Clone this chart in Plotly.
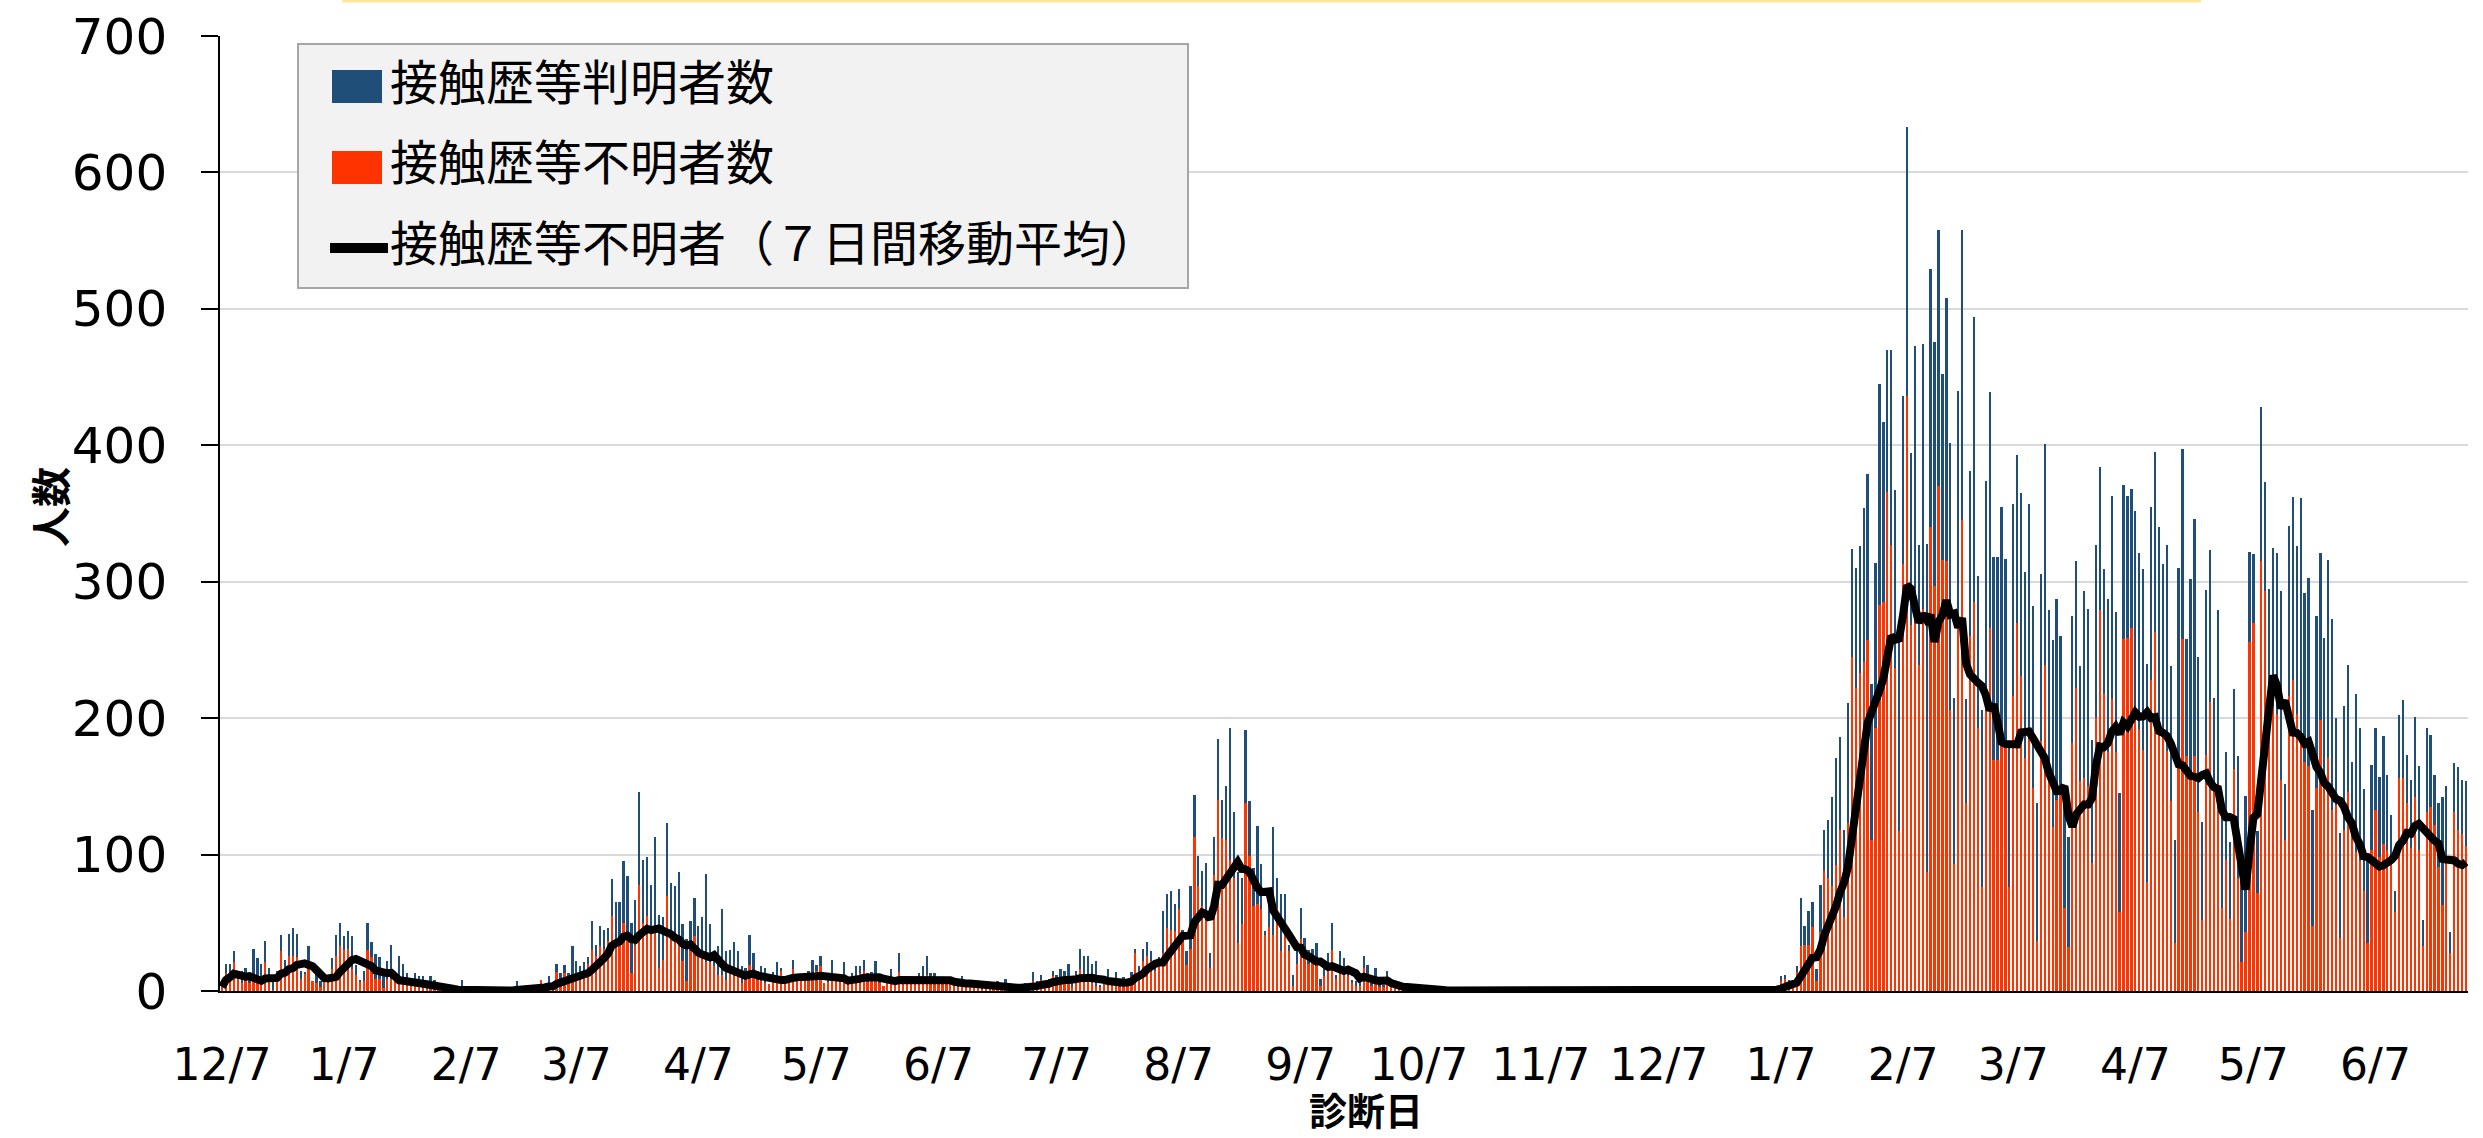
import pandas as pd
import plotly.graph_objects as go

# ---------------- data (daily, starting 2020-12-07) ----------------
start_date = "2020-12-07"

# 接触歴等不明者数 (unknown contact history)
unknown_2020_12_to_2021_01 = [3,13,14,21,9,6,7,6,8,8, 8,21,8,1,13,29,14,26,26,25, 9,13,21,7,6,3,7,7,16,26,
                              33,30,31,16,12,7,7,30,25,9, 9,2,9,9,9,8,7,7,4,5, 5,5,2,3,2, 1]
unknown_2021_02_to_2021_05 = [1,1,1,1,0,1,0,1,0,
                              1,0,0,0,1,0,1,1,0,1,
                              1,1,1,2,1,2,8,3,6,2,
                              14,8,13,10,10,12,13,14,20,30,
                              26,33,31,37,55,33,
                              39,50,39,13,34,78,50,55,43,44,
                              17,23,70,40,37,34,22,7,29,40,
                              28,27,21,21,18,12,12,8,17,11,
                              12,6,12,19,12,8,7,6,5,7,
                              8,15,8,8,16,8,8,9,7,13,
                              15,18,6,7,9,9,7,9,6,7,
                              11,13,15,9, 8]
unknown_2021_05_to_2021_09 = [8,6,4,8,9,8,
                              14,8,8,6,5,7,9,12,8,7,
                              6,5,7,10,4,3,7,3,4,5,
                              3,2,2,2,2,3,2,
                              3,2,2,3,2,3,2,
                              7,6,8,4,7,11,9,9,8,9,
                              3,12,16,11,11,6,4,3,7,9,
                              7,8,3,6,4,11,28,15,22,26,
                              22,15,18,28,46,45,44,60,41,19,
                              31,113,77,62,51,17,85,140,112,111,
                              96,83,35,49,138,99,62,64,60,41,
                              47,41,61,29,41,29,4,20,38,26, 20]
unknown_2021_09_to_2022_01 = [22,22,4,11,18,30,9,17,14,11, 6,4,4,17,12,4,8,3,3,7, 4,2,2,1,1,1,1,0,1,0, 1,0,1,0,
                              1,0,0,1,0,0,0,1,0,0,
                              0,1,0,0,0,0,1,0,0,0,
                              0,0,1,0,0,0,0,0,1,0,
                              0,0,0,0,1,0,0,0,0,0,
                              1,0,0,0,0,0,0,0,1,0,
                              0,0,0,0,0,1,0,0,0,0,
                              0,0,1,0,0,0,0,0,0,1,
                              0,0,0,0,0,1,0,0,1,0,
                              0,1,1, 2,2]
unknown_2022_01_to_2022_06 = [7,9,5,4,14,33,34,34,47,7,
                              43,88,83,77,92,118,54,123,245,222,
                              233,241,257,111,193,283,285,366,327,237,
                              117,313,436,268,280,239,280,87,340,297,
                              370,316,315,206,93,268,345,138,260,285,
                              193,76,222,266,169,169,183,182,76,216,
                              270,231,171,185,149,37,183,239,158,120,
                              140,150,61,32,182,222,154,156,150,94,
                              200,279,218,175,214,175,58,258,259,266,
                              199,192,177,80,228,263,195,190,176,139,
                              35,165,258,172,159,172,131,52,173,212,
                              146,152,61,96,53,163,83,21,43,256,
                              270,72,315,293,205,208,203,155,111,216,
                              228,203,189,168,165,48,149,199,149,171,
                              133,136,39,118,146,118,102,95,73,35,
                              103,133,98,108,103,92,58,156,156,138,
                              105,142,103,33,131,135,122,91,63, 100,
                              28,131,118,115,106]

# 接触歴等判明者数 (known contact history)
known_2020_12_to_2021_01 = [3,7,6,8,6,9,10,3,23,16, 12,16,9,6,2,12,9,16,20,17, 6,1,12,0,9,4,6,1,8,15,
                            17,10,13,24,7,1,8,20,11,18, 16,14,13,25,4,18,13,6,3,8, 6,6,1,8,6, 1]
known_2021_02_to_2021_05 = [2,1,2,1,2,7,1,1,1,
                            1,1,0,1,1,1,1,1,1,1,
                            6,2,1,1,1,1,0,1,5,2,
                            6,5,6,3,23,10,5,7,5,21,
                            8,15,14,9,27,32,
                            26,45,45,37,33,68,46,43,35,69,
                            39,31,53,39,40,53,27,31,22,28,
                            20,27,65,28,9,21,48,21,13,25,
                            17,12,5,22,16,7,11,11,0,7,
                            13,2,1,1,7,2,1,3,8,10,
                            4,8,0,1,14,1,0,12,1,6,
                            7,5,8,4, 6]
known_2021_05_to_2021_09 = [14,1,0,2,7,2,
                            14,2,2,1,0,6,9,14,5,6,
                            1,0,1,0,1,1,4,1,2,3,
                            1,1,1,2,1,4,1,
                            6,1,2,2,1,3,2,
                            7,1,4,3,2,4,3,7,7,11,
                            3,3,15,15,15,14,18,1,2,7,
                            2,6,1,4,2,3,3,3,9,10,
                            7,2,7,31,25,28,20,15,4,10,
                            46,31,22,26,43,11,28,45,28,39,
                            97,48,52,34,53,40,28,57,33,3,
                            16,79,22,42,30,5,8,14,23,13, 10]
known_2021_09_to_2022_01 = [9,13,5,6,10,20,3,12,10,3, 2,3,4,9,7,2,9,3,1,8, 5,2,1,1,1,0,1,1,1,1, 1,1,0,1,
                            1,1,0,1,2,0,1,0,1,1,
                            0,1,2,0,1,0,0,1,1,0,
                            1,0,1,2,0,0,1,0,1,1,
                            0,1,0,1,0,1,0,0,1,0,
                            0,1,1,0,0,1,0,1,0,0,
                            1,0,0,1,0,0,1,0,1,0,
                            0,1,0,0,1,0,0,1,0,0,
                            1,0,1,0,0,1,0,1,0,1,
                            1,0,2, 2,1]
known_2022_01_to_2022_06 = [4,3,3,2,4,35,14,25,18,9,
                            35,30,42,65,79,68,64,88,79,88,
                            93,113,122,114,121,162,132,104,143,130,
                            139,123,197,126,193,88,194,241,189,179,
                            188,136,193,196,122,172,213,76,121,209,
                            111,130,152,173,149,149,172,135,107,141,
                            123,134,136,172,133,101,123,162,121,137,
                            147,110,89,81,93,93,84,137,130,90,
                            127,105,91,112,149,103,87,113,104,102,
                            153,129,132,160,127,132,145,123,151,99,
                            76,145,139,86,143,174,114,72,121,111,
                            69,127,82,79,56,58,89,62,100,66,
                            50,45,113,80,90,117,118,138,41,125,
                            134,123,172,124,138,85,126,122,110,145,
                            140,64,77,91,93,50,116,98,75,61,
                            63,60,59,79,55,37,15,46,57,35,
                            50,59,62,19,62,53,36,47,79, 50,
                            15,36,46,40,48]

unknown = (unknown_2020_12_to_2021_01 + unknown_2021_02_to_2021_05 + unknown_2021_05_to_2021_09
           + unknown_2021_09_to_2022_01 + unknown_2022_01_to_2022_06)
known = (known_2020_12_to_2021_01 + known_2021_02_to_2021_05 + known_2021_05_to_2021_09
         + known_2021_09_to_2022_01 + known_2022_01_to_2022_06)
assert len(unknown) == len(known) == 571, (len(unknown), len(known))

dates = pd.date_range(start_date, periods=len(unknown), freq="D")
ma7 = pd.Series(unknown).rolling(7, min_periods=1).mean()

tick_dates = ["2020-12-07", "2021-01-07", "2021-02-07", "2021-03-07", "2021-04-07", "2021-05-07",
              "2021-06-07", "2021-07-07", "2021-08-07", "2021-09-07", "2021-10-07", "2021-11-07",
              "2021-12-07", "2022-01-07", "2022-02-07", "2022-03-07", "2022-04-07", "2022-05-07",
              "2022-06-07"]
tick_labels = ["12/7", "1/7", "2/7", "3/7", "4/7", "5/7", "6/7", "7/7", "8/7", "9/7", "10/7", "11/7",
               "12/7", "1/7", "2/7", "3/7", "4/7", "5/7", "6/7"]

series_names = ["接触歴等判明者数", "接触歴等不明者数", "接触歴等不明者（７日間移動平均）"]
x_title = "診断日"
y_title = "人数"
COL_KNOWN = "#1f4e79"
COL_UNKNOWN = "#ff3300"

# ---------------- figure ----------------
W, H = 2483, 1138
ML, MR, MT, MB = 220, 15, 36, 147
PW, PH = W - ML - MR, H - MT - MB


def px(x):
    return (x - ML) / PW


def py(y):
    return (H - MB - y) / PH


fig = go.Figure()
fig.add_trace(go.Bar(x=dates, y=unknown, name=series_names[1], marker_color=COL_UNKNOWN,
                     marker_line_width=0, showlegend=False))
fig.add_trace(go.Bar(x=dates, y=known, name=series_names[0], marker_color=COL_KNOWN,
                     marker_line_width=0, showlegend=False))
fig.add_trace(go.Scatter(x=dates, y=ma7, name=series_names[2], mode="lines",
                         line=dict(color="black", width=8), showlegend=False))

JP = "Noto Sans CJK JP"
LAT = "DejaVu Sans"

fig.update_layout(
    width=W, height=H,
    margin=dict(l=ML, r=MR, t=MT, b=MB, pad=0),
    barmode="stack", bargap=0.42,
    plot_bgcolor="white", paper_bgcolor="white",
    xaxis=dict(type="date", range=["2020-12-06 12:00", "2022-06-30 12:00"],
               tickvals=tick_dates, ticktext=tick_labels,
               tickfont=dict(family=LAT, size=44, color="black"),
               ticks="", showgrid=False, zeroline=False, automargin=False,
               showline=True, linecolor="black", linewidth=2,
               ticklabelstandoff=34),
    yaxis=dict(range=[0, 700], dtick=100, tickmode="linear", tick0=0,
               tickfont=dict(family=LAT, size=50, color="black"),
               ticks="outside", ticklen=17, tickwidth=1.5, tickcolor="black",
               showline=True, linecolor="black", linewidth=1.5, automargin=False,
               showgrid=True, gridcolor="#d9d9d9", gridwidth=2, zeroline=False,
               ticklabelstandoff=24),
)

shapes = [
    # thin yellow line at the very top (edge of a cropped title box)
    dict(type="line", xref="paper", yref="paper", x0=px(342), x1=px(2201), y0=py(1), y1=py(1),
         line=dict(color="#ffe699", width=3)),
    # legend box
    dict(type="rect", xref="paper", yref="paper", x0=px(298), x1=px(1188), y0=py(288), y1=py(44),
         fillcolor="#f2f2f2", line=dict(color="#a6a6a6", width=2), layer="above"),
    dict(type="rect", xref="paper", yref="paper", x0=px(332), x1=px(382), y0=py(103), y1=py(70),
         fillcolor=COL_KNOWN, line=dict(width=0), layer="above"),
    dict(type="rect", xref="paper", yref="paper", x0=px(332), x1=px(382), y0=py(184), y1=py(151),
         fillcolor=COL_UNKNOWN, line=dict(width=0), layer="above"),
    dict(type="line", xref="paper", yref="paper", x0=px(330), x1=px(388), y0=py(248), y1=py(248),
         line=dict(color="black", width=10), layer="above"),
]
fig.update_layout(shapes=shapes)

for name, ycen in zip(series_names, [79, 159, 240]):
    fig.add_annotation(text=name, xref="paper", yref="paper", x=px(388), y=py(ycen),
                       xanchor="left", yanchor="middle", showarrow=False,
                       font=dict(family=JP, size=48, color="black"))

# axis titles
fig.add_annotation(text=x_title, xref="paper", yref="paper", x=px(1366), y=py(1108),
                   xanchor="center", yanchor="middle", showarrow=False,
                   font=dict(family=JP, size=38, color="black", weight="bold"))
fig.add_annotation(text=y_title, xref="paper", yref="paper", x=px(49), y=py(507), textangle=-90,
                   xanchor="center", yanchor="middle", showarrow=False,
                   font=dict(family=JP, size=40, color="black", weight="bold"))

fig.write_html("out.html", config={"displayModeBar": False},
               post_script="document.body.style.margin='0px';document.body.style.overflow='hidden';")
